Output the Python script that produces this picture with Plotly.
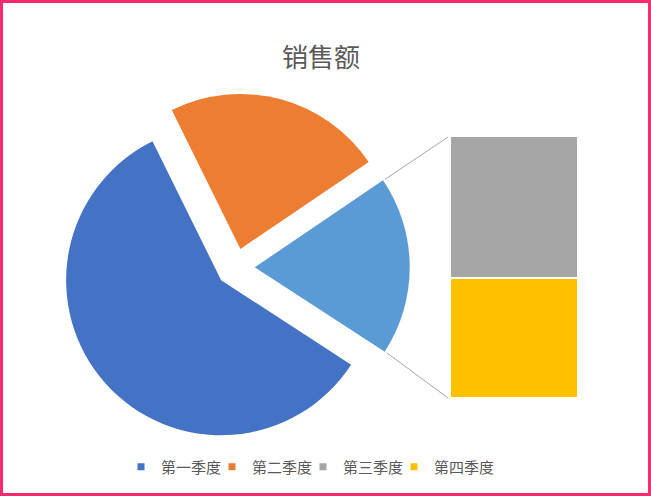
import math
import plotly.graph_objects as go

# ---- data ----
categories = ["第一季度", "第二季度", "第三季度", "第四季度"]
sales = [590, 230, 102, 86]
other_label = "其他"

# ---- styles ----
colors = ["#4472C4", "#ED7D31", "#A5A5A5", "#FFC000"]
other_color = "#5B9BD5"
FONT = "Noto Sans CJK SC, Microsoft YaHei, sans-serif"
TEXT_COLOR = "#595959"

W, H = 651, 496
pie_cx, pie_cy = 235.5, 267.5  # pixel centre of pie box
pull = 0.124
pie_r = 155
pie_box = 2 * pie_r * (1 + pull)  # pixel size of pie domain
rotation = 123
bar_left, bar_right, bar_top, bar_bottom = 450, 578, 137, 397

px2x = lambda p: p / W
px2y = lambda p: 1 - p / H

pie_values = [sales[0], sales[1], sales[2] + sales[3]]
pie_labels = [categories[0], categories[1], other_label]

fig = go.Figure()

fig.add_trace(go.Pie(
    labels=pie_labels, values=pie_values, sort=False, direction="clockwise",
    rotation=rotation, pull=[pull] * 3, textinfo="none", showlegend=False,
    marker=dict(colors=[colors[0], colors[1], other_color], line=dict(width=0)),
    domain=dict(x=[px2x(pie_cx - pie_box / 2), px2x(pie_cx + pie_box / 2)],
                y=[px2y(pie_cy + pie_box / 2), px2y(pie_cy - pie_box / 2)]),
    hoverinfo="label+value+percent",
))

# stacked bar for the split-out part (bottom first)
for idx in (3, 2):
    fig.add_trace(go.Bar(
        x=[other_label], y=[sales[idx]], name=categories[idx],
        marker=dict(color=colors[idx], line=dict(color="white", width=2)),
        showlegend=False, xaxis="x", yaxis="y",
    ))

# legend entries
for name, col in zip(categories, colors):
    fig.add_trace(go.Scatter(
        x=[None], y=[None], mode="markers", name=name,
        marker=dict(symbol="square", size=7, color=col),
    ))
# invisible spacer entry so the last label is not clipped
fig.add_trace(go.Scatter(x=[None], y=[None], mode="markers", name=" ",
                         marker=dict(size=1, color="rgba(0,0,0,0)"), hoverinfo="skip"))

# connector lines computed from slice geometry
total = sum(pie_values)
a0 = math.radians(rotation + 360 * (pie_values[0] + pie_values[1]) / total)
a1 = math.radians(rotation + 360)
amid = (a0 + a1) / 2
ox = pie_cx + pull * pie_r * math.sin(amid)
oy = pie_cy - pull * pie_r * math.cos(amid)
p_top = (ox + pie_r * math.sin(a0), oy - pie_r * math.cos(a0))
p_bot = (ox + pie_r * math.sin(a1), oy - pie_r * math.cos(a1))
shapes = [
    dict(type="line", xref="paper", yref="paper",
         x0=px2x(p_top[0] + 2), y0=px2y(p_top[1] - 1),
         x1=px2x(bar_left - 2), y1=px2y(bar_top),
         line=dict(color="#A6A6A6", width=1)),
    dict(type="line", xref="paper", yref="paper",
         x0=px2x(p_bot[0] + 2), y0=px2y(p_bot[1] + 1),
         x1=px2x(bar_left - 2), y1=px2y(bar_bottom + 1),
         line=dict(color="#A6A6A6", width=1)),
    dict(type="rect", xref="paper", yref="paper",
         x0=px2x(1.5), y0=px2y(H - 1.5), x1=px2x(W - 1.5), y1=px2y(1.5),
         line=dict(color="#FF2A6D", width=3)),
]

fig.update_layout(
    width=W, height=H, margin=dict(l=0, r=0, t=0, b=0),
    paper_bgcolor="white", plot_bgcolor="white",
    font=dict(family=FONT, color=TEXT_COLOR),
    title=dict(text="销售额", x=px2x(321), y=px2y(58), xanchor="center", yanchor="middle",
               font=dict(size=26, color=TEXT_COLOR, family=FONT)),
    barmode="stack", bargap=0,
    xaxis=dict(domain=[px2x(bar_left), px2x(bar_right)], visible=False, fixedrange=True),
    yaxis=dict(domain=[px2y(bar_bottom + 1), px2y(bar_top - 1)], range=[0, sum(sales[2:])],
               visible=False, fixedrange=True),
    legend=dict(orientation="h", traceorder="normal", x=px2x(121), y=px2y(467),
                xanchor="left", yanchor="middle",
                font=dict(size=15, color=TEXT_COLOR, family=FONT), bgcolor="rgba(0,0,0,0)",
                entrywidth=46),
    shapes=shapes,
)

fig.write_html("out.html", config={"displayModeBar": False},
               post_script="document.body.style.margin='0';document.body.style.overflow='hidden';")
